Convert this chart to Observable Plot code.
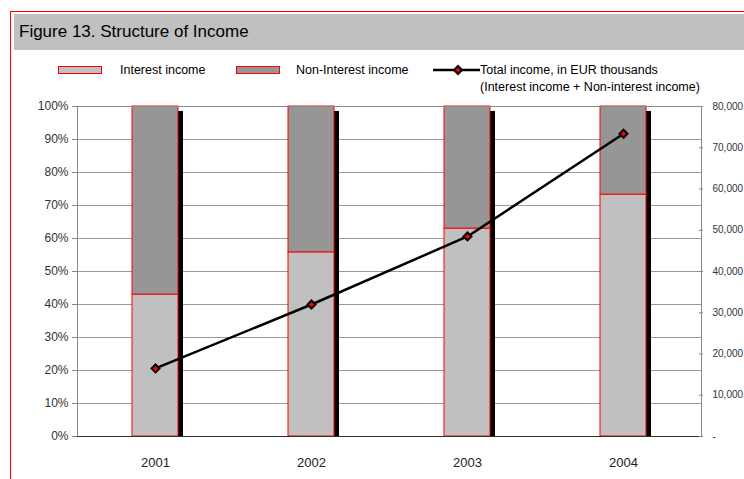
<!DOCTYPE html>
<html>
<head>
<meta charset="utf-8">
<script src="https://cdn.jsdelivr.net/npm/d3@7"></script>
<script src="https://cdn.jsdelivr.net/npm/@observablehq/plot@0.6"></script>
<style>
  html, body { margin: 0; padding: 0; background: #fff; width: 744px; height: 479px; overflow: hidden; font-family: "Liberation Sans", Arial, sans-serif; }
  #frame { position: absolute; left: 10px; top: 11px; width: 760px; height: 500px; border: 1.5px solid #ff0000; box-sizing: border-box; }
  #titleband { position: absolute; left: 14px; top: 14px; width: 740px; height: 36px; background: #c0c0c0; }
  #title { position: absolute; left: 19px; top: 22px; font-size: 17px; color: #000; }
  .lg { position: absolute; font-size: 12.5px; line-height: 14px; color: #000; white-space: nowrap; }
  .sw { position: absolute; height: 8px; width: 44px; border: 1px solid #ff0000; box-sizing: border-box; }
  #chart { position: absolute; left: 0; top: 92px; }
</style>
</head>
<body>
<div id="frame"></div>
<div id="titleband"></div>
<div id="title">Figure 13. Structure of Income</div>
<div class="sw" style="left:58px; top:66px; background:#c0c0c0;"></div>
<div class="lg" style="left:120px; top:63px;">Interest income</div>
<div class="sw" style="left:236px; top:66px; background:#969696;"></div>
<div class="lg" style="left:296px; top:63px;">Non-Interest income</div>
<svg style="position:absolute; left:430px; top:62px;" width="52" height="16">
  <line x1="3" y1="8" x2="50" y2="8" stroke="#000" stroke-width="2.5"/>
  <path d="M28,4 L32,8 L28,12 L24,8 Z" fill="#ff0000" stroke="#000" stroke-width="2"/>
</svg>
<div class="lg" style="left:480px; top:63px;">Total income, in EUR thousands</div>
<div class="lg" style="left:480px; top:80px;">(Interest income + Non-interest income)</div>
<div id="chart"></div>
<script>
const years = ["2001", "2002", "2003", "2004"];
const interestShare = [0.43, 0.558, 0.63, 0.733];
const totalIncome = [16500, 32000, 48500, 73400];
const leftTicks = [0, 0.1, 0.2, 0.3, 0.4, 0.5, 0.6, 0.7, 0.8, 0.9, 1];
const rightTicks = [0, 10000, 20000, 30000, 40000, 50000, 60000, 70000, 80000];
const rightMax = 80000;

const rows = years.map((y, i) => ({year: y, interest: interestShare[i], total: totalIncome[i]}));

const chart = Plot.plot({
  width: 744,
  height: 387,
  marginLeft: 77,
  marginRight: 43,
  marginTop: 14,
  marginBottom: 43,
  style: {fontFamily: "'Liberation Sans', Arial, sans-serif", fontSize: "11px", color: "#333", background: "transparent", overflow: "visible"},
  x: {domain: years, paddingInner: 0.705, paddingOuter: 0.3525, align: 0.5, label: null},
  y: {domain: [0, 1], label: null},
  marks: [
    Plot.gridY(leftTicks, {stroke: "#999", strokeOpacity: 1}),
    Plot.barY(rows, {x: "year", y1: 0, y2: 0.985, fill: "#000", dx: 5}),
    Plot.barY(rows, {x: "year", y1: 0, y2: "interest", fill: "#c0c0c0", stroke: "#ff0000", strokeWidth: 1}),
    Plot.barY(rows, {x: "year", y1: "interest", y2: 1, fill: "#969696", stroke: "#ff0000", strokeWidth: 1}),
    Plot.frame({stroke: "#888"}),
    Plot.ruleY([0], {stroke: "#333", strokeWidth: 1.2}),
    Plot.line(rows, {x: "year", y: d => d.total / rightMax, stroke: "#000", strokeWidth: 2.5}),
    Plot.dot(rows, {x: "year", y: d => d.total / rightMax, symbol: "diamond2", r: 3.6, fill: "#ff0000", stroke: "#000", strokeWidth: 2}),
    Plot.axisY(leftTicks, {anchor: "left", tickFormat: d3.format(".0%"), tickSize: 5, stroke: "#888", fontSize: 12, tickPadding: 4, label: null, fill: "#333"}),
    Plot.axisY(rightTicks.map(v => v / rightMax), {anchor: "right", tickFormat: d => d === 0 ? "-" : d3.format(",")(Math.round(d * rightMax)), tickSize: 4, dx: -3, tickPadding: 10, stroke: "#888", fontSize: 10, label: null, fill: "#333"}),
    Plot.axisX({tickSize: 0, tickPadding: 21, fontSize: 13, label: null, fill: "#222"})
  ]
});
document.getElementById("chart").appendChild(chart);
</script>
</body>
</html>
